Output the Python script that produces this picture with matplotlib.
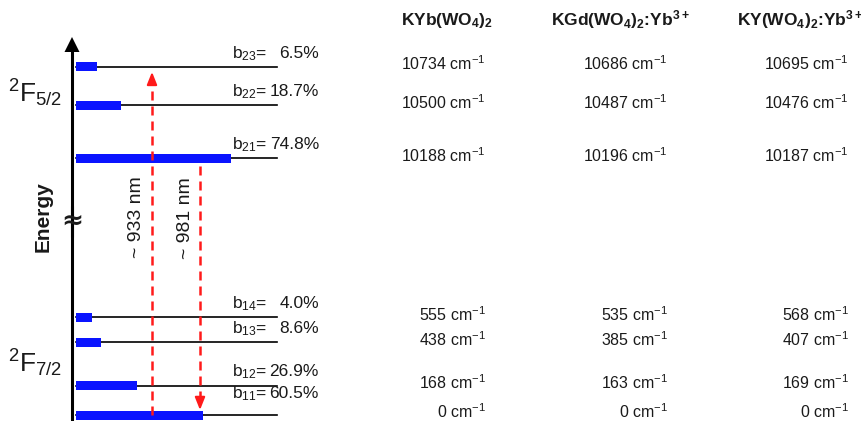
import matplotlib.pyplot as plt
import numpy as np

plt.rcParams['font.family'] = ['Liberation Sans', 'DejaVu Sans']
plt.rcParams['mathtext.fontset'] = 'custom'
plt.rcParams['mathtext.default'] = 'regular'
plt.rcParams['axes.unicode_minus'] = False

# Stark levels (cm^-1) of Yb3+ in the three hosts, from top of 2F5/2 down to the ground state
hosts = ['KYb(WO$_{4}$)$_{2}$', 'KGd(WO$_{4}$)$_{2}$:Yb$^{3+}$', 'KY(WO$_{4}$)$_{2}$:Yb$^{3+}$']
kyb = [10734, 10500, 10188, 555, 438, 168, 0]
kgd = [10686, 10487, 10196, 535, 385, 163, 0]
ky = [10695, 10476, 10187, 568, 407, 169, 0]

# branching ratios for each level (same order)
b_names = ['23', '22', '21', '14', '13', '12', '11']
b_vals = [6.5, 18.7, 74.8, 4.0, 8.6, 26.9, 60.5]

# laser lines
wavelengths = [933, 981]

ink = '#1a1a1a'
red = '#ff1a1a'
blue = '#0a14ff'

fig = plt.figure(figsize=(8.62, 4.21), dpi=100)
ax = fig.add_axes([0, 0, 1, 1])
ax.set_xlim(0, 862)
ax.set_ylim(421, 0)
ax.axis('off')

# energy -> pixel row, with a break between the two manifolds
k = 0.177
e_mean = np.mean([kyb, kgd, ky], axis=0)
def level_y(e):
    if e > 5000:
        return 158 - k * (e - e_mean[2])
    return 415 - k * e

ys = [level_y(e) for e in e_mean]

# energy axis with break
ax.plot([72, 72], [421, 206], color='black', lw=2.2, solid_capstyle='butt')
ax.plot([72, 72], [237, 50], color='black', lw=2.2, solid_capstyle='butt')
ax.fill([64.5, 79.5, 72], [52, 52, 37], color='black', lw=0)
ax.text(72, 221, '≈', fontsize=19, fontweight='bold', ha='center', va='center',
        color=ink, family='DejaVu Sans')
ax.text(43, 217, 'Energy', rotation=90, fontsize=15, fontweight='bold',
        ha='center', va='center', color=ink)

ax.text(8, 93, '$^{2}$F$_{5/2}$', fontsize=19, ha='left', va='center', color=ink)
ax.text(8, 363, '$^{2}$F$_{7/2}$', fontsize=19, ha='left', va='center', color=ink)

# levels and branching-ratio bars
x0 = 76
for y, name, b in zip(ys, b_names, b_vals):
    ax.plot([x0, 277], [y, y], color='black', lw=1.2, zorder=1)
    ax.barh(y, 8 + 1.963 * b, height=9, left=x0, color=blue, edgecolor='none', zorder=2)
    ty = min(y - 9, 398)
    ax.text(232, ty, 'b$_{%s}$=' % name, fontsize=12.5, ha='left', va='baseline', color=ink)
    ax.text(319, ty, '%.1f%%' % b, fontsize=12.5, ha='right', va='baseline', color=ink)

# pump (up) and emission (down) transitions
def dashed_arrow(x, y_start, y_tip):
    step = 12 if y_tip < y_start else -12
    ax.plot([x, x], [y_start, y_tip + step], color=red, lw=1.8,
            linestyle=(0, (3.6, 2.4)), zorder=3)
    ax.annotate('', xy=(x, y_tip), xytext=(x, y_tip + step),
                arrowprops=dict(arrowstyle='-|>,head_length=0.75,head_width=0.3',
                                color=red, lw=1.5, shrinkA=0, shrinkB=0), zorder=3)

dashed_arrow(152, ys[6], ys[0] + 5)
dashed_arrow(200, ys[2] + 8, ys[6] - 5)
ax.text(137, 217, '~ %d nm' % wavelengths[0], rotation=90, fontsize=14,
        ha='center', va='center', color=ink)
ax.text(186, 218, '~ %d nm' % wavelengths[1], rotation=90, fontsize=14,
        ha='center', va='center', color=ink)

# table of level energies
head_x = [447, 620, 800]
col_right = [486, 668, 849]
for hx, h in zip(head_x, hosts):
    ax.text(hx, 25, h, fontsize=12.5, fontweight='bold', ha='center', va='baseline', color=ink)
for cx, col in zip(col_right, [kyb, kgd, ky]):
    for y, e in zip(ys, col):
        ax.text(cx, y + 3.5, '%d cm$^{-1}$' % e, fontsize=11.5, ha='right',
                va='baseline', color=ink)

fig.savefig('out.png', dpi=100)
